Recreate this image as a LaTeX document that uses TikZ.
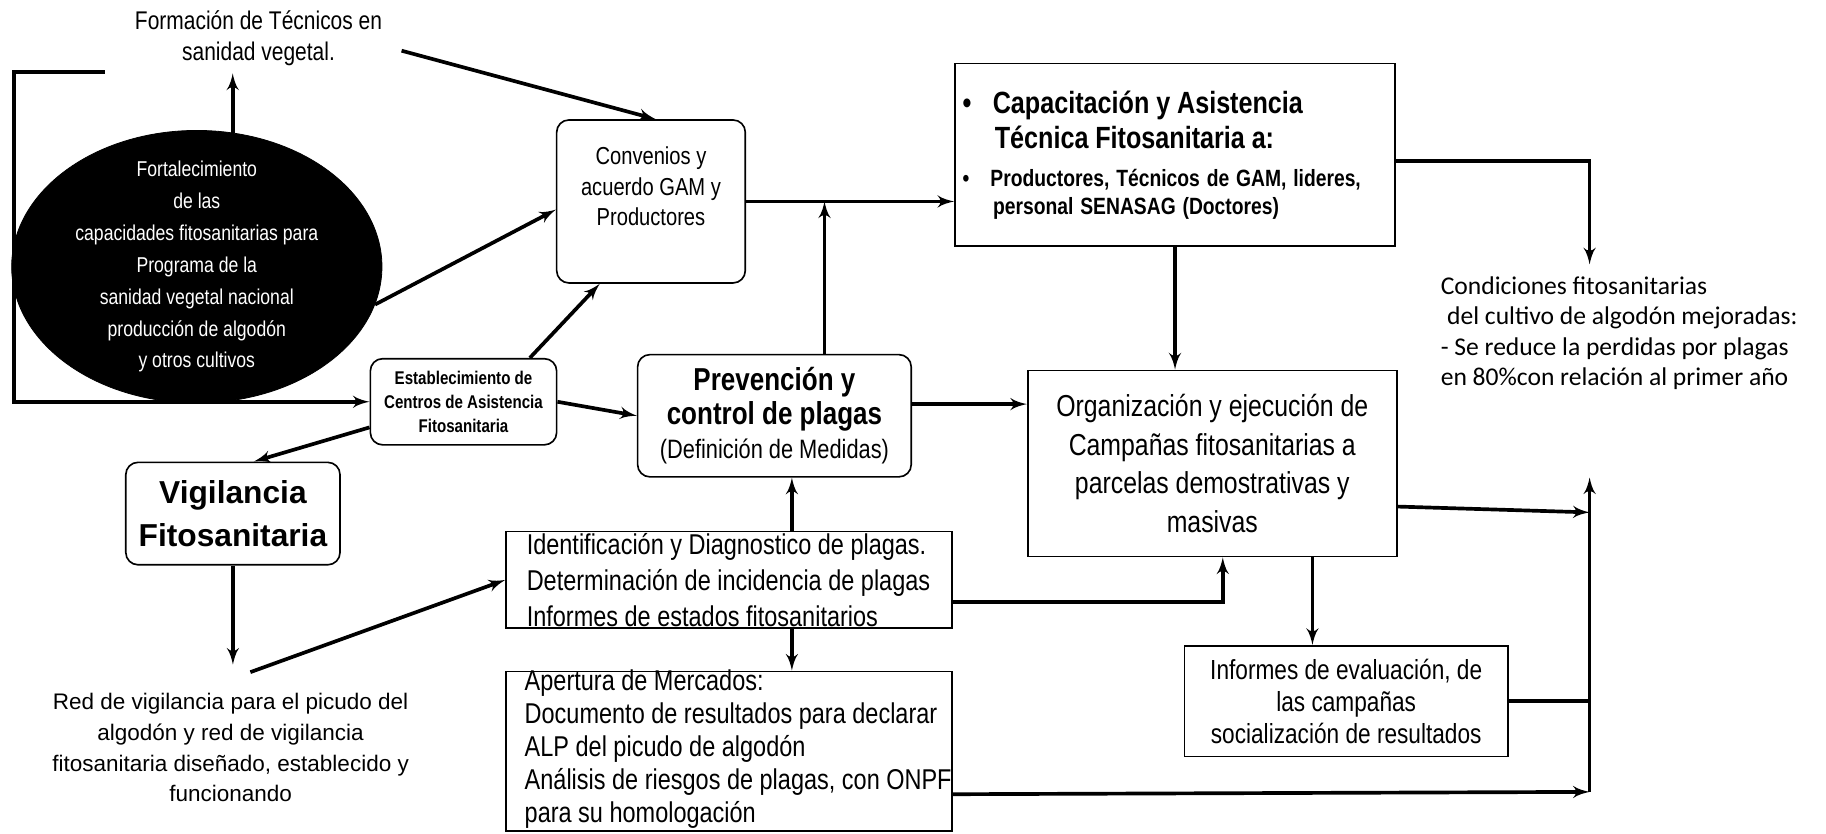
\documentclass[tikz,border=0pt]{standalone}
\usepackage{fontspec}
\setmainfont{Liberation Sans}[FakeStretch=0.82]
\newfontfamily\arialfont{Liberation Sans}
\newfontfamily\calibrifont{Carlito}
\usetikzlibrary{shapes.geometric, arrows, positioning, calc}
\newcommand{\fsz}[2]{\fontsize{#1}{#2}\selectfont}

\begin{document}
\begin{tikzpicture}[
    x=0.02cm, y=-0.02cm, % units of the reference picture, y downwards
    >=latex',
    rblock/.style={rectangle, draw, line width=0.8pt, rounded corners=6pt, align=center, inner sep=1pt},
    sblock/.style={rectangle, draw, line width=0.8pt, align=center, inner sep=1pt},
    line/.style={draw, ->, line width=1.8pt},
    plainline/.style={draw, line width=1.8pt}
]
    \useasboundingbox (0,0) rectangle (1568,716);

    % left part: goal ellipse, training and agreements
    \node[ellipse, draw, fill=black, minimum width=6.36cm, minimum height=4.68cm] (goal) at (169,229) {};
    \node[text=white, align=center, font=\fsz{10.5}{15.6}] (goaltxt) at (goal.center)
        {Fortalecimiento\\de las\\capacidades fitosanitarias para\\Programa de la\\sanidad vegetal nacional\\producción de algodón\\y otros cultivos};
    \node[align=center, font=\fsz{12.5}{15.4}] (train) at (222,33) {Formación de Técnicos en\\sanidad vegetal.};
    \node[rblock, minimum width=3.24cm, minimum height=2.8cm, font=\fsz{12}{15}] (agree) at (559,173)
        {Convenios y\\acuerdo GAM y\\Productores\\ \mbox{}};
    \node[rblock, minimum width=3.2cm, minimum height=1.48cm, font=\bfseries\fsz{9}{11.7}] (centers) at (398,345)
        {Establecimiento de\\Centros de Asistencia\\Fitosanitaria};
    \node[rblock, minimum width=4.7cm, minimum height=2.1cm, font=\bfseries\fsz{15.5}{16.8}] (prev) at (665,357)
        {Prevención y\\control de plagas\\{\mdseries\fsz{13}{16.8}(Definición de Medidas)}};
    \node[rblock, minimum width=3.68cm, minimum height=1.76cm, font=\arialfont\bfseries\fsz{15.5}{21}] (watch) at (200,441)
        {Vigilancia\\Fitosanitaria};
    \node[align=center, font=\arialfont\fsz{11}{15}] (network) at (198,642)
        {Red de vigilancia para el picudo del\\algodón y red de vigilancia\\fitosanitaria diseñado, establecido y\\funcionando};

    % right part: assistance, campaigns and results
    \node[sblock, minimum width=7.56cm, minimum height=3.14cm, text width=7.3cm, align=left] (capac) at (1009,133)
        {{\bfseries\fsz{15}{17.5}\textbullet\hspace{0.7em}Capacitación y Asistencia\\\hspace*{1.05em}Técnica Fitosanitaria a:\par}
         \vspace{5pt}
         {\bfseries\fsz{11.5}{13.5}\textbullet\hspace{0.9em}Productores, Técnicos de GAM, lideres,\\\hspace*{1.3em}personal SENASAG (Doctores)\par}};
    \node[anchor=west, align=left, font=\calibrifont\fsz{12.5}{14.8}] (result) at (1231,286)
        {Condiciones fitosanitarias\\\hspace*{0.25em}del cultivo de algodón mejoradas:\\- Se reduce la perdidas por plagas\\en 80\%con relación al primer año};
    \node[sblock, minimum width=6.34cm, minimum height=3.2cm, font=\fsz{14.8}{18.8}] (campaign) at (1041,398)
        {Organización y ejecución de\\Campañas fitosanitarias a\\parcelas demostrativas y\\masivas};
    \node[sblock, minimum width=5.56cm, minimum height=1.9cm, font=\fsz{13.5}{15.6}] (report) at (1156,602)
        {Informes de evaluación, de\\las campañas\\socialización de resultados};

    % lower middle boxes, text slightly larger than the box
    \node[sblock, minimum width=7.66cm, minimum height=1.66cm] (diag) at (626,498) {};
    \node[anchor=west, align=left, font=\fsz{14}{17.5}] (diagtxt) at ([xshift=7pt]diag.west)
        {Identificación y Diagnostico de plagas.\\Determinación de incidencia de plagas\\Informes de estados fitosanitarios};
    \node[sblock, minimum width=7.66cm, minimum height=2.74cm] (market) at (626,645) {};
    \node[anchor=west, align=left, font=\fsz{14}{16.2}] (markettxt) at ([xshift=6pt,yshift=1pt]market.west)
        {Apertura de Mercados:\\Documento de resultados para declarar\\ALP del picudo de algodón\\Análisis de riesgos de plagas, con ONPF\\para su homologación};

    % helper points
    \coordinate (loopstart) at (90,62);
    \coordinate (resin) at (1365,227);
    \coordinate (midx) at (680,0);
    \coordinate (repx) at (1127,0);
    \coordinate (busmid) at (1365,440);
    \coordinate (busbot) at (1365,680);
    \coordinate (bustop) at (1365,410);
    \coordinate (prevup) at ($(prev.north)+(43,0)$);

    % connectors
    \path[line] (goal.75) -- (goal.75 |- train.south);
    \path[line] (loopstart) -- (12,62) |- (centers.west);
    \path[line] (goal.-12) -- ($(agree.west)+(0,7)$);
    \path[line] ([xshift=6pt,yshift=-6pt]train.east) -- ($(agree.north)+(4,0)$);
    \path[line] ($(centers.north)+(57,0)$) -- ($(agree.south)+(-44,0)$);
    \path[line] (centers.east) -- (prev.west);
    \path[line] ($(centers.west)+(0,22)$) -- ($(watch.north)+(18,0)$);
    \path[line] (agree.east) -- (agree.east -| capac.west);
    \path[line] (prevup) -- (prevup |- agree.east);
    \path[line] ($(capac.east)+(0,5)$) -| (resin);
    \path[line] (capac.south) -- (capac.south |- campaign.north);
    \path[line] ($(prev.east)+(0,-10)$) -- ($(prev.east -| campaign.west)+(0,-10)$);
    \path[line] (watch.south) -- ($(watch.south)+(0,85)$);
    \path[line] ($(network.north)+(17,-12)$) -- (diag.west);
    \path[line] (diag.north -| midx) -- (prev.south -| midx);
    \path[line] (diag.south -| midx) -- (market.north -| midx);
    \path[line] ($(diag.east)+(0,19)$) -| ($(campaign.south)+(9,0)$);
    \path[line] (campaign.south -| repx) -- (report.north -| repx);
    \path[line] ($(campaign.east)+(0,37)$) -- (busmid);
    \path[plainline] (report.east) -- (report.east -| busmid);
    \path[line] ($(market.east)+(0,37)$) -- (busbot);
    \path[line] (busbot) -- (bustop);
\end{tikzpicture}
\end{document}
